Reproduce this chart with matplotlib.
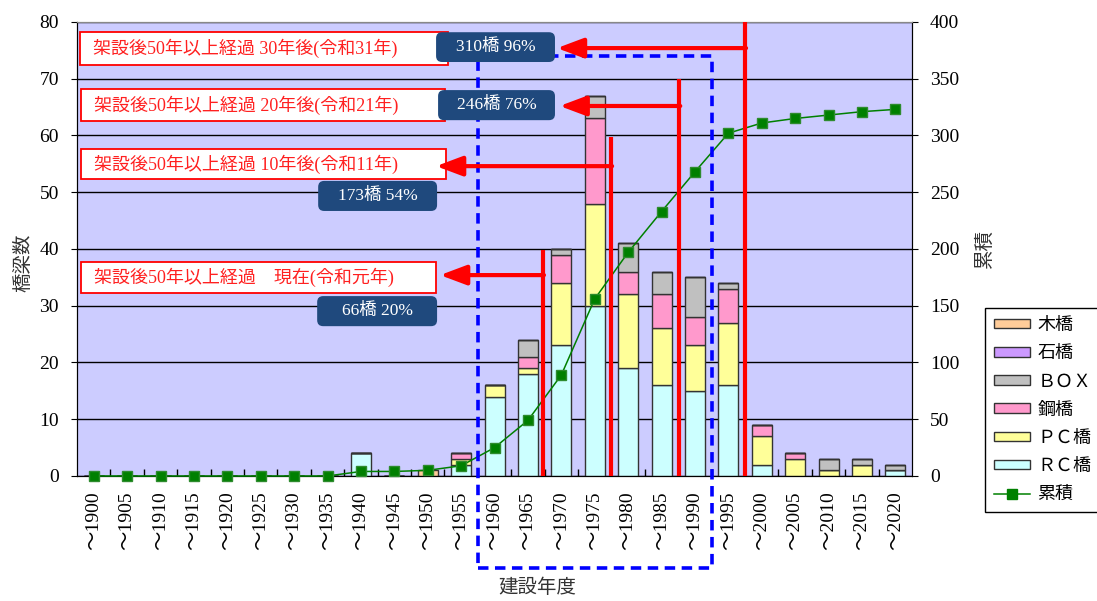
import matplotlib
matplotlib.use("Agg")
import matplotlib.pyplot as plt
from matplotlib.patches import Rectangle, FancyBboxPatch, Patch
from matplotlib.lines import Line2D
from matplotlib.font_manager import FontProperties

plt.rcParams['font.family'] = ['Liberation Serif', 'Noto Sans CJK JP']

# Data
years = [1900, 1905, 1910, 1915, 1920, 1925, 1930, 1935, 1940, 1945, 1950, 1955,
         1960, 1965, 1970, 1975, 1980, 1985, 1990, 1995, 2000, 2005, 2010, 2015, 2020]
tick_labels = ["～" + str(y) for y in years]

rc_bridge    = [0, 0, 0, 0, 0, 0, 0, 0, 4, 0, 0, 2, 14, 18, 23, 30, 19, 16, 15, 16, 2, 0, 0, 0, 1]
pc_bridge    = [0, 0, 0, 0, 0, 0, 0, 0, 0, 0, 0, 1, 2, 1, 11, 18, 13, 10, 8, 11, 5, 3, 1, 2, 0]
steel_bridge = [0, 0, 0, 0, 0, 0, 0, 0, 0, 0, 0, 1, 0, 2, 5, 15, 4, 6, 5, 6, 2, 1, 0, 0, 0]
box_bridge   = [0, 0, 0, 0, 0, 0, 0, 0, 0, 0, 0, 0, 0, 3, 1, 4, 5, 4, 7, 1, 0, 0, 2, 1, 1]
stone_bridge = [0] * 25
wood_bridge  = [0, 0, 0, 0, 0, 0, 0, 0, 0, 0, 1, 0, 0, 0, 0, 0, 0, 0, 0, 0, 0, 0, 0, 0, 0]
cumulative   = [0, 0, 0, 0, 0, 0, 0, 0, 4, 4, 5, 9, 25, 49, 89, 156, 197, 233, 268, 302,
                311, 315, 318, 321, 323]

series = [
    ("ＲＣ橋", rc_bridge, "#CCFFFF"),
    ("ＰＣ橋", pc_bridge, "#FFFF99"),
    ("鋼橋", steel_bridge, "#FF99CC"),
    ("ＢＯＸ", box_bridge, "#C0C0C0"),
    ("石橋", stone_bridge, "#CC99FF"),
    ("木橋", wood_bridge, "#FFCC99"),
]

fig = plt.figure(figsize=(10.97, 6.01), dpi=100)
ax = fig.add_axes([0.0702, 0.208, 0.7612, 0.7554])
ax2 = ax.twinx()

x = list(range(len(years)))
ax.set_facecolor("#CCCCFF")

bottom = [0] * len(years)
for name, vals, color in series:
    ax.bar(x, vals, width=0.6, bottom=bottom, color=color,
           edgecolor="#333333", linewidth=1.0, zorder=3)
    bottom = [b + v for b, v in zip(bottom, vals)]

ax.set_xlim(-0.5, len(years) - 0.5)
ax.set_ylim(0, 80)
ax.set_yticks(range(0, 81, 10))
ax.grid(axis="y", color="black", linewidth=1.0, zorder=1)
ax.set_axisbelow(True)
ax.set_xticks(x)
ax.set_xticklabels(tick_labels, rotation=90, fontsize=14)
ax.set_xticks([i + 0.5 for i in x[:-1]], minor=True)
ax.tick_params(axis="x", which="major", length=0, pad=11)
ax.tick_params(axis="x", which="minor", direction="in", length=5, width=1)
ax.tick_params(axis="y", labelsize=14, length=4, pad=9)

ax2.set_ylim(0, 400)
ax2.set_yticks(range(0, 401, 50))
ax2.tick_params(axis="y", labelsize=14, length=4, pad=9)
ax2.plot(x, cumulative, color="#008000", linewidth=1.1, marker="s",
         markersize=6.5, markerfacecolor="#008000", markeredgecolor="#2E8B2E",
         clip_on=False, zorder=4)

for a in (ax, ax2):
    for s in ("left", "right", "bottom"):
        a.spines[s].set_color("black")
    a.spines["top"].set_color("#888888")

ax.set_ylabel("橋梁数", family="Noto Sans CJK JP", fontsize=14, color="#333333")
ax.yaxis.set_label_coords(-0.052, 0.47)
ax2.set_ylabel("累積", family="Noto Sans CJK JP", fontsize=14, color="#333333")
ax2.yaxis.set_label_coords(1.074, 0.5)
ax.set_xlabel("建設年度", family="Noto Sans CJK JP", fontsize=14, color="#333333")
ax.xaxis.set_label_coords(0.551, -0.222)

jp = ['Liberation Serif', 'Noto Sans CJK JP']
td = ax.transData

# blue dashed frame around 1960-1990
ax2.add_patch(Rectangle((11.5, -16.2), 7.0, 90.2, transform=td, fill=False,
                        edgecolor="#0000FF", linewidth=2.6,
                        linestyle=(0, (2.9, 1.8)), clip_on=False, zorder=5))

# red lines with arrows: (line x, line top, arrow y, arrow tip x)
red_marks = [(13.45, 39.8, 35.4, 10.37),
             (15.49, 59.7, 54.6, 10.25),
             (17.53, 70.0, 65.2, 13.95),
             (19.50, 80.0, 75.4, 13.87)]
for lx, top, ay, tip in red_marks:
    ax2.plot([lx, lx], [0, top], transform=td, color="#FF0000",
             linewidth=3.0, solid_capstyle="butt", zorder=6)
    ax2.annotate("", xy=(tip, ay), xytext=(lx + 0.03, ay), xycoords=td,
                 textcoords=td,
                 arrowprops=dict(arrowstyle="-|>,head_length=0.8,head_width=0.3",
                                 color="#FF0000", lw=3.0, mutation_scale=20,
                                 shrinkA=0, shrinkB=0), zorder=8)

# red-bordered label boxes: (x0, x1, y0, y1, text)
red_boxes = [(-0.41, 10.61, 72.4, 78.2, "架設後50年以上経過 30年後(令和31年)"),
             (-0.38, 10.52, 62.6, 68.2, "架設後50年以上経過 20年後(令和21年)"),
             (-0.38, 10.55, 52.3, 57.6, "架設後50年以上経過 10年後(令和11年)"),
             (-0.38, 10.25, 32.2, 37.7, "架設後50年以上経過　現在(令和元年)")]
for x0, x1, y0, y1, txt in red_boxes:
    ax2.add_patch(Rectangle((x0, y0), x1 - x0, y1 - y0, transform=td,
                            facecolor="white", edgecolor="#FF0000",
                            linewidth=1.3, zorder=7))
    ax2.text(x0 + 0.4, (y0 + y1) / 2, txt, transform=td, color="#FF2020",
             fontsize=13, family=jp, ha="left", va="center", zorder=9)

# dark blue count boxes
blue_boxes = [(10.25, 13.81, 72.95, 78.2, "310橋 96%"),
              (10.31, 13.81, 62.7, 68.0, "246橋 76%"),
              (6.72, 10.28, 46.7, 52.0, "173橋 54%"),
              (6.69, 10.28, 26.4, 31.7, "66橋 20%")]
for x0, x1, y0, y1, txt in blue_boxes:
    ax2.add_patch(FancyBboxPatch((x0, y0), x1 - x0, y1 - y0, transform=td,
                                 boxstyle="round,pad=0,rounding_size=0.18",
                                 mutation_aspect=5.88, facecolor="#1F497D",
                                 edgecolor="none", zorder=10))
    ax2.text((x0 + x1) / 2, (y0 + y1) / 2, txt, transform=td, color="white",
             fontsize=12.5, family=jp, ha="center", va="center", zorder=11)

# legend
handles = [Patch(facecolor=c, edgecolor="#333333", linewidth=1.0, label=n)
           for n, _, c in reversed(series)]
handles.append(Line2D([], [], color="#008000", linewidth=1.1, marker="s",
                      markersize=6.5, label="累積"))
leg = fig.legend(handles=handles, loc="upper left", bbox_to_anchor=(0.898, 0.4875),
                 prop=FontProperties(family=jp, size=13), fancybox=False,
                 edgecolor="black", framealpha=1, handlelength=2.0,
                 handleheight=0.45, labelspacing=0.62, borderpad=0.5,
                 handletextpad=0.4, borderaxespad=0)
leg.get_frame().set_linewidth(1.0)

fig.savefig("out.png", dpi=100)
